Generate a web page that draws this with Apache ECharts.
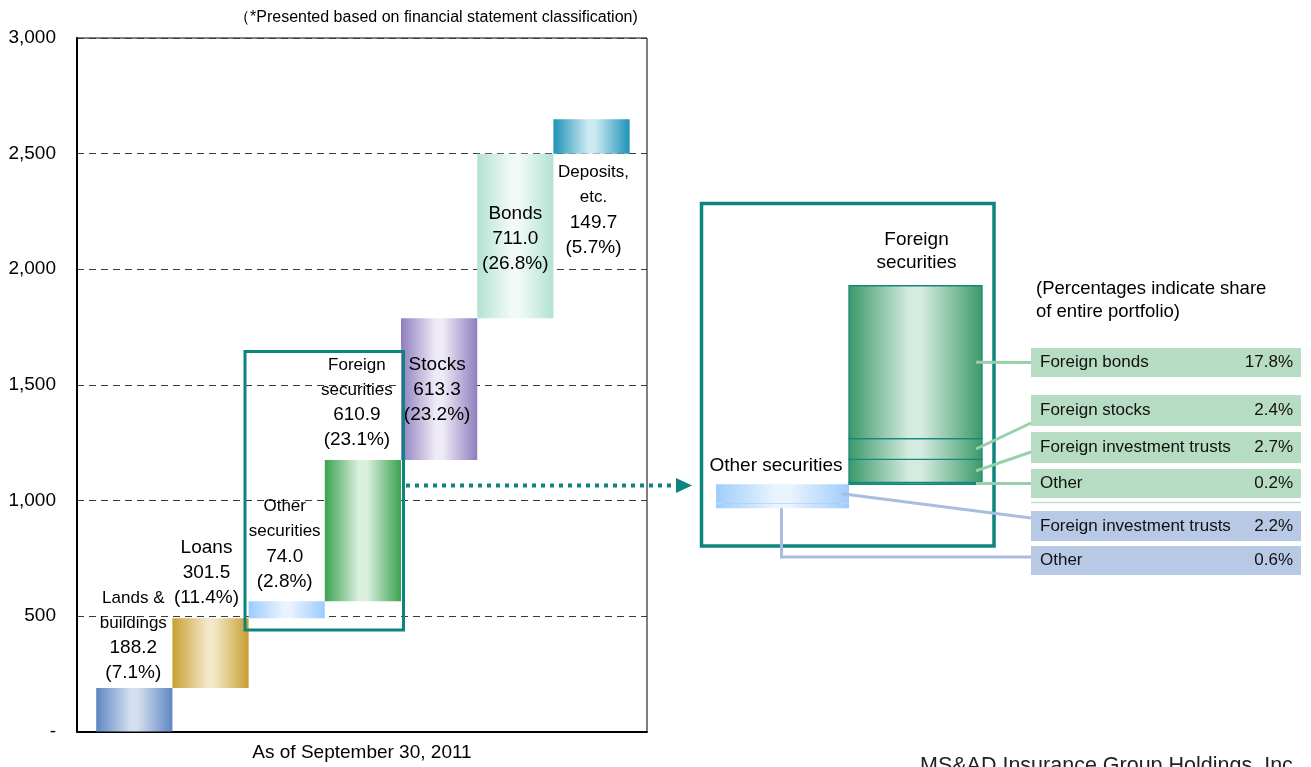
<!DOCTYPE html>
<html>
<head>
<meta charset="utf-8">
<script src="https://cdn.jsdelivr.net/npm/echarts@6/dist/echarts.min.js"></script>
<style>html,body{margin:0;padding:0;background:#fff;overflow:hidden}#c{width:1311px;height:767px}</style>
</head>
<body>
<div id="c"></div>
<script>
// ---------------- DATA ----------------
const categories = ['Lands &\nbuildings', 'Loans', 'Other\nsecurities', 'Foreign\nsecurities', 'Stocks', 'Bonds', 'Deposits,\netc.'];
const amounts = [188.2, 301.5, 74.0, 610.9, 613.3, 711.0, 149.7];
const shares = [7.1, 11.4, 2.8, 23.1, 23.2, 26.8, 5.7];
const yTicks = [0, 500, 1000, 1500, 2000, 2500, 3000];
const detailCategories = ['Other securities', 'Foreign\nsecurities'];
const foreignParts = ['Foreign bonds', 'Foreign stocks', 'Foreign investment trusts', 'Other'];
const foreignShares = [17.8, 2.4, 2.7, 0.2];
const otherParts = ['Foreign investment trusts', 'Other'];
const otherShares = [2.2, 0.6];
const titleNote = '（*Presented based on financial statement classification)';
const dateLabel = 'As of September 30, 2011';
const portfolioNote = '(Percentages indicate share\nof entire portfolio)';
const footer = 'MS&AD Insurance Group Holdings, Inc.';

// ---------------- STYLES ----------------
const FONT = "'Liberation Sans', Arial, sans-serif";
const TEAL = '#0d857f';
const barColors = [
  ['#5f86c3', '#d3deee'],
  ['#c99f33', '#f2e7c6'],
  ['#9ccbff', '#e8f3ff'],
  ['#3aa24e', '#dcf0e0'],
  ['#8e7ebf', '#eeeaf6'],
  ['#b3e2d3', '#f1faf7'],
  ['#1e93b6', '#cbe9f2']
];
// label placement per bar (mode, distance, horizontal nudge, name style)
const labelPlace = [
  {mode: 'above', d: 2.5, dx: -1, ns: 'n'},
  {mode: 'above', d: 8, dx: -4, ns: 'b'},
  {mode: 'above', d: 7, dx: -2, ns: 'n'},
  {mode: 'above', d: 7.5, dx: -6, ns: 'n'},
  {mode: 'inside', d: 34, dx: -2, ns: 'b'},
  {mode: 'inside', d: 47.5, dx: 0, ns: 'b'},
  {mode: 'below', d: 6, dx: 2, ns: 'n'}
];
const rich = {
  n: {fontSize: 17, lineHeight: 25, fontFamily: FONT, fill: '#000'},
  b: {fontSize: 19, lineHeight: 25, fontFamily: FONT, fill: '#000'},
  v: {fontSize: 19, lineHeight: 25, fontFamily: FONT, fill: '#000'}
};

function grad(edge, center) {
  return new echarts.graphic.LinearGradient(0, 0, 1, 0, [
    {offset: 0, color: edge}, {offset: 0.45, color: center},
    {offset: 0.55, color: center}, {offset: 1, color: edge}
  ]);
}

// waterfall data
const mainData = [];
let cum = 0;
amounts.forEach((a, i) => { mainData.push([i, cum, cum + a]); cum += a; });

function renderMain(params, api) {
  const i = api.value(0);
  const lo = api.coord([i - 0.5, api.value(1)]);
  const hi = api.coord([i + 0.5, api.value(2)]);
  const x = lo[0], y = hi[1], w = hi[0] - lo[0], h = lo[1] - hi[1];
  const c = barColors[i];
  const pl = labelPlace[i];
  const lines = categories[i].split('\n').map(s => '{' + pl.ns + '|' + s + '}');
  lines.push('{v|' + amounts[i].toFixed(1) + '}');
  lines.push('{v|(' + shares[i].toFixed(1) + '%)}');
  let ty, va;
  if (pl.mode === 'above') { ty = y - pl.d; va = 'bottom'; }
  else if (pl.mode === 'inside') { ty = y + pl.d; va = 'top'; }
  else { ty = y + h + pl.d; va = 'top'; }
  return {
    type: 'group',
    children: [
      {type: 'rect', shape: {x: x, y: y, width: w, height: h}, style: {fill: grad(c[0], c[1])}},
      {type: 'text', x: x + w / 2 + pl.dx, y: ty, z2: 10,
        style: {text: lines.join('\n'), align: 'center', verticalAlign: va, rich: rich, fill: '#000', font: '17px ' + FONT}}
    ]
  };
}

// detail data: [x, lo, hi, group]
const detailData = [];
(function () {
  let acc = 0;
  for (let k = otherShares.length - 1; k >= 0; k--) { detailData.push([0, acc, acc + otherShares[k], 0]); acc += otherShares[k]; }
  for (let k = foreignShares.length - 1; k >= 0; k--) { detailData.push([1, acc, acc + foreignShares[k], 1]); acc += foreignShares[k]; }
})();

function renderDetail(params, api) {
  const xi = api.value(0), g = api.value(3);
  const lo = api.coord([xi - 0.5, api.value(1)]);
  const hi = api.coord([xi + 0.5, api.value(2)]);
  const x = lo[0], y = hi[1], w = hi[0] - lo[0], h = lo[1] - hi[1];
  if (g === 1) {
    return {type: 'rect', shape: {x: x, y: y, width: w, height: h},
      style: {fill: grad('#3a9868', '#d4ebdf'), stroke: '#15877d', lineWidth: 1.3}};
  }
  const children = [{type: 'rect', shape: {x: x, y: y, width: w, height: h}, style: {fill: grad('#a0ccfc', '#e9f4ff')}}];
  if (api.value(1) === 0) {
    children.push({type: 'line', shape: {x1: x + 6, y1: y, x2: x + w - 8, y2: y}, style: {stroke: '#9fc9f6', lineWidth: 1.2}});
  }
  return {type: 'group', children: children};
}

const chart = echarts.init(document.getElementById('c'), null, {renderer: 'canvas'});
const option = {
  animation: false,
  backgroundColor: '#fff',
  textStyle: {fontFamily: FONT},
  grid: [
    {left: 77, top: 38, width: 570, height: 696, show: true, borderColor: '#000', borderWidth: 1, backgroundColor: 'transparent'},
    {left: 716, top: 250.5, width: 266, height: 257.8, show: false}
  ],
  xAxis: [
    {type: 'value', gridIndex: 0, min: -0.752, max: 6.728, position: 'bottom',
      axisLine: {show: true, onZero: false, lineStyle: {color: '#000', width: 2}}, axisTick: {show: false},
      axisLabel: {show: false}, splitLine: {show: false},
      name: dateLabel, nameLocation: 'middle', nameGap: 21,
      nameTextStyle: {fontSize: 19, color: '#000', fontFamily: FONT, verticalAlign: 'middle'}},
    {type: 'value', gridIndex: 1, min: -0.5, max: 1.5, show: false}
  ],
  yAxis: [
    {type: 'value', gridIndex: 0, min: yTicks[0], max: yTicks[yTicks.length - 1], interval: 500, position: 'left',
      axisLine: {show: true, onZero: false, lineStyle: {color: '#000', width: 2}}, axisTick: {show: false},
      axisLabel: {fontSize: 19, color: '#000', fontFamily: FONT, margin: 21,
        formatter: v => v === 0 ? '-' : v.toLocaleString('en-US')},
      splitLine: {show: true, lineStyle: {color: '#3a3a3a', type: [7, 5], width: 1}}},
    {type: 'value', gridIndex: 1, min: 0, max: 30, show: false}
  ],
  series: [
    {type: 'custom', name: 'Portfolio', xAxisIndex: 0, yAxisIndex: 0, renderItem: renderMain,
      encode: {x: 0, y: [1, 2]}, data: mainData, clip: false, z: 3},
    {type: 'custom', name: 'Detail', xAxisIndex: 1, yAxisIndex: 1, renderItem: renderDetail,
      encode: {x: 0, y: [1, 2]}, data: detailData, clip: false, z: 3}
  ]
};
chart.setOption(option);

// ---------------- ANNOTATIONS ----------------
const px = (x, y) => chart.convertToPixel({gridIndex: 1}, [x, y]);
const otherTotal = otherShares.reduce((a, b) => a + b, 0);
const foreignTotal = foreignShares.reduce((a, b) => a + b, 0);
const fMid = [];
(function () {
  let acc = otherTotal;
  for (let k = foreignShares.length - 1; k >= 0; k--) { fMid[k] = acc + foreignShares[k] / 2; acc += foreignShares[k]; }
})();
const oMid = [];
(function () {
  let acc = 0;
  for (let k = otherShares.length - 1; k >= 0; k--) { oMid[k] = acc + otherShares[k] / 2; acc += otherShares[k]; }
})();

const G = [];
const GREEN_BOX = '#b6dcc3', BLUE_BOX = '#b7c9e5', GREEN_LINE = '#97d0ab', BLUE_LINE = '#a9bde2';
const BOX_X = 1031, BOX_W = 270;
const greenRows = [{y: 348, h: 29, end: 362.5}, {y: 395, h: 31, end: 423}, {y: 432, h: 31, end: 452}, {y: 469, h: 29, end: 483.5}];
const blueRows = [{y: 511, h: 30, end: 518}, {y: 546, h: 29, end: 557}];

function rowText(r, name, pct, fill) {
  G.push({type: 'rect', shape: {x: BOX_X, y: r.y, width: BOX_W, height: r.h}, style: {fill: fill}, z: 50});
  G.push({type: 'text', x: 1040, y: r.y + r.h / 2, z: 51,
    style: {text: name, fill: '#111', font: '17px ' + FONT, verticalAlign: 'middle', align: 'left'}});
  G.push({type: 'text', x: 1293, y: r.y + r.h / 2, z: 51,
    style: {text: pct.toFixed(1) + '%', fill: '#111', font: '17px ' + FONT, verticalAlign: 'middle', align: 'right'}});
}
foreignParts.forEach((n, k) => rowText(greenRows[k], n, foreignShares[k], GREEN_BOX));
otherParts.forEach((n, k) => rowText(blueRows[k], n, otherShares[k], BLUE_BOX));
G.push({type: 'line', shape: {x1: BOX_X, y1: 502.5, x2: BOX_X + BOX_W, y2: 502.5}, style: {stroke: '#bfe3cb', lineWidth: 1.5}, z: 50});

// green leader lines
foreignParts.forEach((n, k) => {
  const p = px(1.5, fMid[k]);
  G.push({type: 'line', shape: {x1: p[0] - 6, y1: p[1], x2: BOX_X, y2: greenRows[k].end},
    style: {stroke: GREEN_LINE, lineWidth: 3}, z: 60});
});
// blue leader lines
(function () {
  const p = px(0.5, oMid[0]);
  G.push({type: 'line', shape: {x1: p[0] - 7, y1: p[1], x2: BOX_X, y2: blueRows[0].end},
    style: {stroke: BLUE_LINE, lineWidth: 3}, z: 60});
  const q = px(0, 0);
  G.push({type: 'polyline', shape: {points: [[q[0] - 1, q[1]], [q[0] - 1, blueRows[1].end], [BOX_X, blueRows[1].end]]},
    style: {stroke: BLUE_LINE, lineWidth: 3, fill: null}, z: 60});
})();

// detail panel labels
(function () {
  const t = px(1, otherTotal + foreignTotal);
  G.push({type: 'text', x: t[0] + 1, y: t[1] - 11, z: 61,
    style: {text: detailCategories[1], fill: '#000', font: '19px ' + FONT, align: 'center', verticalAlign: 'bottom', lineHeight: 23}});
  const o = px(0, otherTotal);
  G.push({type: 'text', x: o[0] - 6.5, y: o[1] - 9, z: 61,
    style: {text: detailCategories[0], fill: '#000', font: '19px ' + FONT, align: 'center', verticalAlign: 'bottom'}});
})();
G.push({type: 'text', x: 1036, y: 277, z: 61,
  style: {text: portfolioNote, fill: '#000', font: '18.5px ' + FONT, align: 'left', verticalAlign: 'top', lineHeight: 23}});

// teal boxes and arrow
G.push({type: 'rect', shape: {x: 245, y: 351.5, width: 158.5, height: 278.5}, style: {fill: null, stroke: TEAL, lineWidth: 3}, z: 40});
G.push({type: 'rect', shape: {x: 701.5, y: 203.5, width: 292.5, height: 342.5}, style: {fill: null, stroke: TEAL, lineWidth: 3.5}, z: 40});
G.push({type: 'line', shape: {x1: 406, y1: 485.5, x2: 674, y2: 485.5}, style: {stroke: TEAL, lineWidth: 4, lineDash: [4, 5]}, z: 40});
G.push({type: 'polygon', shape: {points: [[676, 478], [692, 485.5], [676, 493]]}, style: {fill: TEAL}, z: 40});

// texts
G.push({type: 'text', x: 234, y: 18, z: 61,
  style: {text: titleNote, fill: '#000', font: '16px ' + FONT, align: 'left', verticalAlign: 'middle'}});
G.push({type: 'text', x: 920, y: 755, z: 61,
  style: {text: footer, fill: '#222', font: '21.5px ' + FONT, align: 'left', verticalAlign: 'top'}});

chart.setOption({graphic: G});
</script>
</body>
</html>
